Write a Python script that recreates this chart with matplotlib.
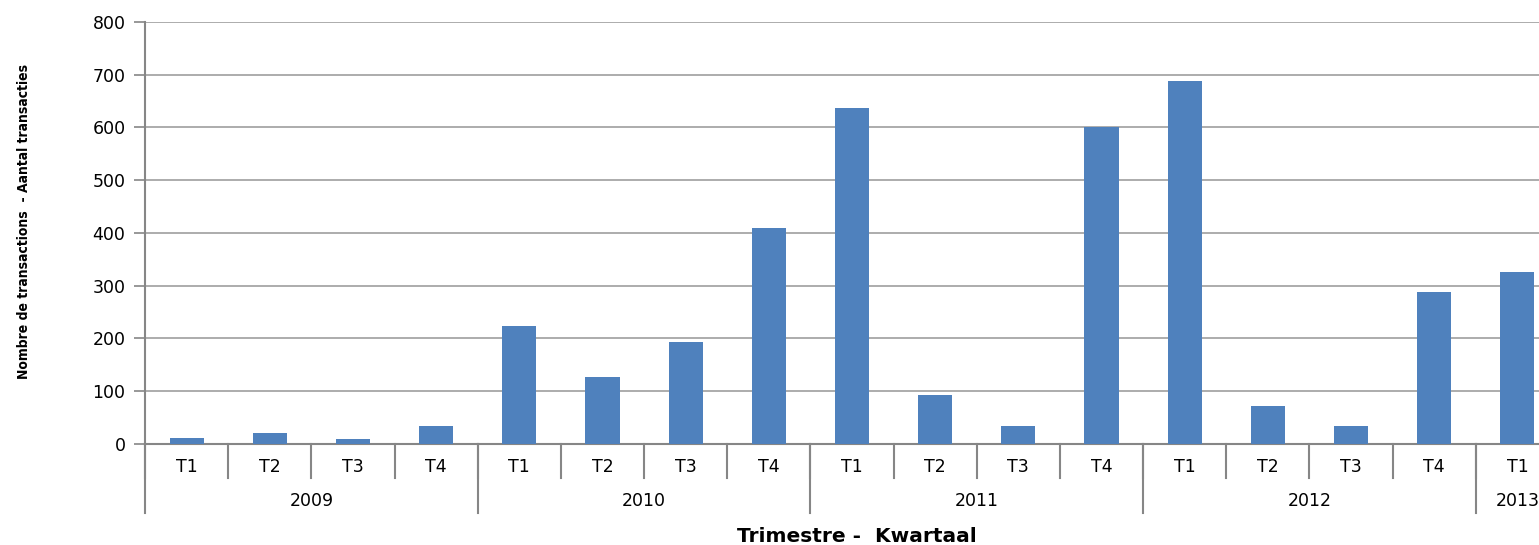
import matplotlib.pyplot as plt
import matplotlib.transforms as mtransforms

# quarterly transaction counts
years = ["2009", "2010", "2011", "2012", "2013"]
quarters_per_year = [4, 4, 4, 4, 1]
quarter_labels = ["T1", "T2", "T3", "T4"] * 4 + ["T1"]
counts = [11, 21, 9, 34,
          224, 127, 193, 409,
          637, 93, 34, 601,
          688, 72, 34, 288,
          326]

bar_color = "#4F81BD"
grid_color = "#A6A6A6"
axis_color = "#868686"

fig = plt.figure(figsize=(15.39, 5.45), dpi=100)
# the plot area runs past the right edge of the picture, as in the reference
ax = fig.add_axes([145 / 1539, 101 / 545, 1414 / 1539, 422 / 545])

x = list(range(len(counts)))
ax.bar(x, counts, width=0.41, color=bar_color, zorder=3)

ax.set_xlim(-0.5, len(counts) - 0.5)
ax.set_ylim(0, 800)
ax.set_yticks(range(0, 801, 100))
ax.tick_params(axis="y", length=8, width=1.2, color=axis_color, labelsize=12.5, pad=6)
ax.set_xticks([])
ax.yaxis.grid(True, color=grid_color, linewidth=1.3, zorder=0)

for side in ["top", "right"]:
    ax.spines[side].set_visible(False)
for side in ["left", "bottom"]:
    ax.spines[side].set_color(axis_color)
    ax.spines[side].set_linewidth(1.5)

# two-level category axis drawn by hand
trans = mtransforms.blended_transform_factory(ax.transData, ax.transAxes)
row1 = -34 / 422
row2 = -69 / 422
for i, lab in enumerate(quarter_labels):
    ax.text(i, -23 / 422, lab, transform=trans, ha="center", va="center", fontsize=12.5)
for i in range(len(counts) + 1):
    ax.plot([i - 0.5, i - 0.5], [0, row1], transform=trans, color=axis_color,
            linewidth=1.5, clip_on=False)

start = 0
for yr, n in zip(years, quarters_per_year):
    ax.plot([start - 0.5, start - 0.5], [0, row2], transform=trans, color=axis_color,
            linewidth=1.5, clip_on=False)
    center = start + (n - 1) / 2
    ax.text(center, -57 / 422, yr, transform=trans, ha="center", va="center", fontsize=12.5)
    start += n

fig.text(857 / 1539, 1 - 536 / 545, "Trimestre -  Kwartaal", ha="center", va="center",
         fontsize=14.5, fontweight="bold")
fig.text(24 / 1539, 1 - 221 / 545, "Nombre de transactions  - Aantal transacties",
         rotation=90, ha="center", va="center", fontsize=10, fontweight="bold",
         fontstretch="condensed", family="DejaVu Sans")

fig.savefig("out.png", dpi=100)
